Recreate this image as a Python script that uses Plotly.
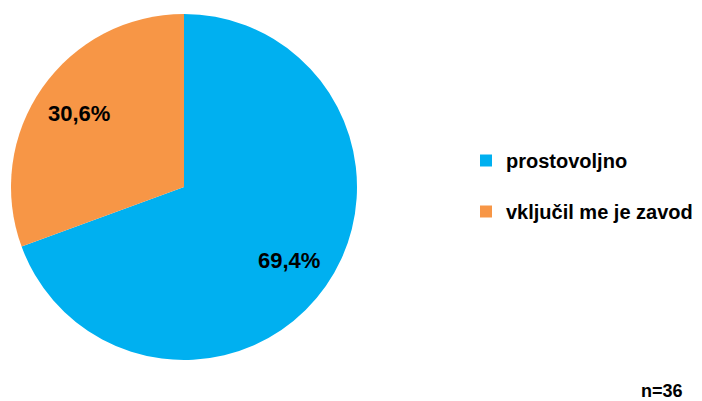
import math
import plotly.graph_objects as go

labels = ["prostovoljno", "vključil me je zavod"]
values = [69.4, 30.6]
text_labels = ["69,4%", "30,6%"]
colors = ["#00B0F0", "#F79646"]
note = "n=36"

W, H = 702, 401
CX, CY, R = 184, 187, 173  # pie centre / radius in pixels

fig = go.Figure()
fig.add_trace(go.Pie(
    labels=labels,
    values=values,
    text=text_labels,
    textinfo="none",
    sort=False,
    direction="clockwise",
    rotation=0,
    marker=dict(colors=colors, line=dict(width=0)),
    hoverinfo="label+text",
    showlegend=False,
    domain=dict(x=[(CX - R) / W, (CX + R) / W], y=[1 - (CY + R) / H, 1 - (CY - R) / H]),
))

# legend entries (separate groups so they can be spaced)
for i, (lab, col) in enumerate(zip(labels, colors)):
    fig.add_trace(go.Scatter(
        x=[None], y=[None], mode="markers", name=lab,
        marker=dict(symbol="square", size=12, color=col),
        legendgroup=f"g{i}", showlegend=True, hoverinfo="skip",
    ))

# percentage labels placed along each slice's mid angle
total = sum(values)
cum = 0.0
for v, t in zip(values, text_labels):
    mid = (cum + v / 2) / total * 2 * math.pi
    cum += v
    r = 0.74 * R
    px = CX + r * math.sin(mid)
    py = CY - r * math.cos(mid)
    fig.add_annotation(
        text=t, x=px / W, y=1 - py / H, xref="paper", yref="paper",
        showarrow=False, xanchor="center", yanchor="middle",
        font=dict(family="Liberation Sans, Arial, sans-serif",
                  size=22, color="black", weight="bold"),
    )

fig.add_annotation(
    text=note, x=662 / W, y=1 - 391 / H, xref="paper", yref="paper",
    showarrow=False, xanchor="center", yanchor="middle",
    font=dict(family="Liberation Sans, Arial, sans-serif", size=18, color="black", weight="bold"),
)

fig.update_layout(
    width=W, height=H,
    margin=dict(l=0, r=0, t=0, b=0),
    paper_bgcolor="white", plot_bgcolor="white",
    showlegend=True,
    xaxis=dict(visible=False), yaxis=dict(visible=False),
    legend=dict(
        x=466 / W, y=1 - 186 / H, xanchor="left", yanchor="middle",
        font=dict(family="Liberation Sans, Arial, sans-serif", size=20, color="black", weight="bold"),
        tracegroupgap=22, itemwidth=30,
    ),
)

fig.write_html("out.html", config={"displayModeBar": False},
               post_script="document.body.style.margin='0';")
